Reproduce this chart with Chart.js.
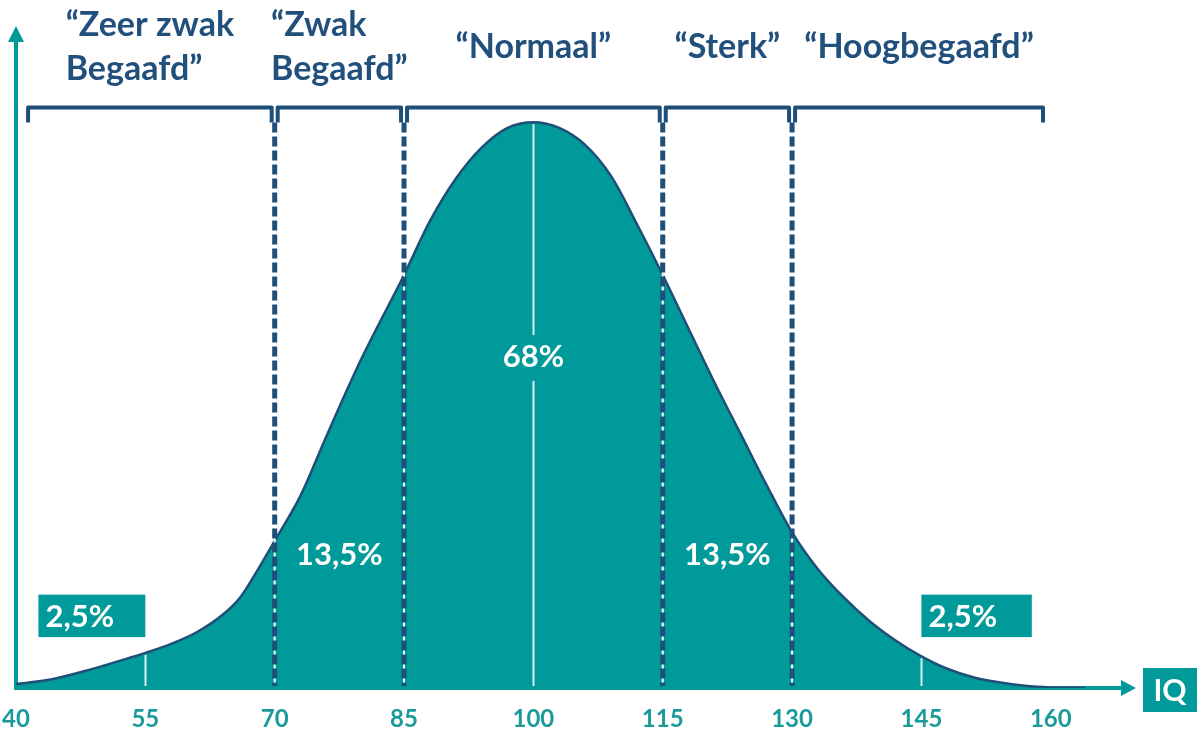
<!DOCTYPE html>
<html><head><meta charset="utf-8">
<script src="https://cdn.jsdelivr.net/npm/chart.js@4"></script>
<style>html,body{margin:0;padding:0;background:#fff;}canvas{display:block;}</style>
</head><body>
<canvas id="c" width="1204" height="735"></canvas>
<script>
// ---- data ----
const iqWaarden = [40,44,48,52,55,58,61,64,66,68,70,73,76,80,85,88,91,94,97,100,103,106,109,112,115,118,121,124,127,130,133,136,139,142,145,148,151,154,157,160,164];
const hoogte    = [0.7,1.5,3.0,4.8,6.2,7.8,9.9,13,16,20.8,26,34,44.5,58,73,82.5,90,95.5,99,100,99,96,90.5,82,73,63.5,54,45,36,27.5,21,16,11.8,8.4,5.6,3.4,1.9,1.0,0.4,0.1,0];
const tickWaarden = [40,55,70,85,100,115,130,145,160];
const grenzen = [70,85,115,130];
const bereikRanden = [41.4,70,85,115,130,159.1];
const categorieen = [["\u201CZeer zwak","Begaafd\u201D"],["\u201CZwak","Begaafd\u201D"],["\u201CNormaal\u201D"],["\u201CSterk\u201D"],["\u201CHoogbegaafd\u201D"]];
const percentages = ["2,5%","13,5%","68%","13,5%","2,5%"];
const asLabel = "IQ";

const TEAL = '#009A9A';
const NAVY = '#1F4E79';
const TXT = '#22507D';
const FONT = 'Lato, "Open Sans", sans-serif';

const decor = {
  id: 'decor',
  beforeDatasetsDraw(chart) {
    const {ctx, chartArea: a, scales: {x, y}} = chart;
    const y0 = y.getPixelForValue(0);
    ctx.save();
    ctx.strokeStyle = TEAL; ctx.fillStyle = TEAL; ctx.lineWidth = 4;
    ctx.beginPath(); ctx.moveTo(a.left, y0 + 2); ctx.lineTo(a.left, a.top + 12); ctx.stroke();
    ctx.beginPath(); ctx.moveTo(a.left - 8, a.top + 16); ctx.lineTo(a.left, a.top); ctx.lineTo(a.left + 8, a.top + 16); ctx.closePath(); ctx.fill();
    ctx.beginPath(); ctx.moveTo(a.left - 2, y0); ctx.lineTo(a.right - 12, y0); ctx.stroke();
    ctx.beginPath(); ctx.moveTo(a.right - 16, y0 - 8); ctx.lineTo(a.right - 1, y0); ctx.lineTo(a.right - 16, y0 + 8); ctx.closePath(); ctx.fill();
    ctx.restore();
  },
  afterDatasetsDraw(chart) {
    const {ctx, chartArea: a, scales: {x, y}} = chart;
    const y0 = y.getPixelForValue(0);
    const hAt = v => y.getPixelForValue(hoogte[iqWaarden.indexOf(v)]);
    ctx.save();
    // thin white lines at 55, 100, 145
    ctx.strokeStyle = 'rgba(225,245,245,0.95)'; ctx.lineWidth = 2;
    const pct68Y = y.getPixelForValue(58.5);
    [[55, hAt(55) + 2, y0 - 2], [145, hAt(145) + 2, y0 - 2], [100, hAt(100) + 2, pct68Y - 22], [100, pct68Y + 24, y0 - 2]].forEach(([v, t, b]) => {
      const px = Math.round(x.getPixelForValue(v)) + 0.5;
      ctx.beginPath(); ctx.moveTo(px, t); ctx.lineTo(px, b); ctx.stroke();
    });
    // dashed boundary lines
    const bracketY = y.getPixelForValue(102.6);
    grenzen.forEach(v => {
      const px = x.getPixelForValue(v);
      ctx.setLineDash([]);
      ctx.strokeStyle = '#ffffff'; ctx.lineWidth = 2;
      ctx.beginPath(); ctx.moveTo(px, bracketY + 14); ctx.lineTo(px, y0 - 2); ctx.stroke();
      ctx.setLineDash([10, 4]);
      ctx.strokeStyle = NAVY; ctx.lineWidth = 5;
      ctx.beginPath(); ctx.moveTo(px, bracketY + 15); ctx.lineTo(px, y0 - 2); ctx.stroke();
    });
    ctx.setLineDash([]);
    // brackets
    ctx.strokeStyle = NAVY; ctx.lineWidth = 4; ctx.lineJoin = 'round'; ctx.lineCap = 'butt';
    const centers = [];
    for (let i = 0; i < bereikRanden.length - 1; i++) {
      const l = x.getPixelForValue(bereikRanden[i]) + (i > 0 ? 3 : 0);
      const r = x.getPixelForValue(bereikRanden[i + 1]) - (i < bereikRanden.length - 2 ? 3 : 0);
      centers.push((l + r) / 2);
      ctx.beginPath(); ctx.moveTo(l, bracketY + 15); ctx.lineTo(l, bracketY); ctx.lineTo(r, bracketY); ctx.lineTo(r, bracketY + 15); ctx.stroke();
    }
    // category labels
    ctx.fillStyle = TXT; ctx.font = 'bold 34px ' + FONT; ctx.textBaseline = 'alphabetic';
    categorieen.forEach((lines, i) => {
      const cx = centers[i];
      if (lines.length === 1) {
        ctx.textAlign = 'center';
        ctx.fillText(lines[0], cx, 58);
      } else {
        const w = Math.max(...lines.map(s => ctx.measureText(s).width));
        ctx.textAlign = 'left';
        lines.forEach((s, j) => ctx.fillText(s, cx - w / 2, 36 + j * 44));
      }
    });
    // percentage labels
    ctx.font = 'bold 31px ' + FONT;
    ctx.textBaseline = 'middle';
    const boxTop = y.getPixelForValue(16.5), boxBot = y.getPixelForValue(9.0);
    const boxes = [[42.6, 55], [145, 157.8]];
    [0, 4].forEach((pi, k) => {
      const l = x.getPixelForValue(boxes[k][0]), r = x.getPixelForValue(boxes[k][1]);
      ctx.fillStyle = TEAL; ctx.fillRect(l, boxTop, r - l, boxBot - boxTop);
      ctx.fillStyle = '#ffffff'; ctx.textAlign = 'left';
      ctx.fillText(percentages[pi], l + 7, (boxTop + boxBot) / 2 + 1);
    });
    ctx.fillStyle = '#ffffff'; ctx.textAlign = 'center';
    const yMid = y.getPixelForValue(23.5);
    ctx.fillText(percentages[1], x.getPixelForValue((grenzen[0] + grenzen[1]) / 2), yMid);
    ctx.fillText(percentages[2], x.getPixelForValue(100), pct68Y);
    ctx.fillText(percentages[3], x.getPixelForValue((grenzen[2] + grenzen[3]) / 2), yMid);
    // IQ box
    ctx.fillStyle = TEAL; ctx.fillRect(a.right + 6, y0 - 20, 54, 44);
    ctx.fillStyle = '#ffffff'; ctx.font = 'bold 30px ' + FONT; ctx.textAlign = 'center';
    ctx.fillText(asLabel, a.right + 33, y0 + 3);
    ctx.restore();
  }
};

new Chart(document.getElementById('c'), {
  type: 'line',
  data: {
    datasets: [{
      data: iqWaarden.map((v, i) => ({x: v, y: hoogte[i]})),
      borderColor: NAVY,
      borderWidth: 2.5,
      backgroundColor: TEAL,
      fill: 'origin',
      pointRadius: 0,
      cubicInterpolationMode: 'monotone'
    }]
  },
  options: {
    responsive: false,
    devicePixelRatio: 1,
    animation: false,
    layout: {padding: {left: 16, right: 67, top: 26, bottom: 0}},
    plugins: {legend: {display: false}, tooltip: {enabled: false}},
    scales: {
      x: {
        type: 'linear', min: 40, max: 170,
        grid: {display: false, drawTicks: false},
        border: {display: false},
        afterBuildTicks: s => { s.ticks = tickWaarden.map(v => ({value: v})); },
        afterFit: s => { s.height = 47; s.paddingLeft = 0; s.paddingRight = 0; },
        ticks: {color: '#1A9A9A', font: {family: FONT, size: 24, weight: 'bold'}, padding: 17, maxRotation: 0, autoSkip: false}
      },
      y: {display: false, min: 0, max: 117}
    }
  },
  plugins: [decor]
});
</script>
</body></html>
